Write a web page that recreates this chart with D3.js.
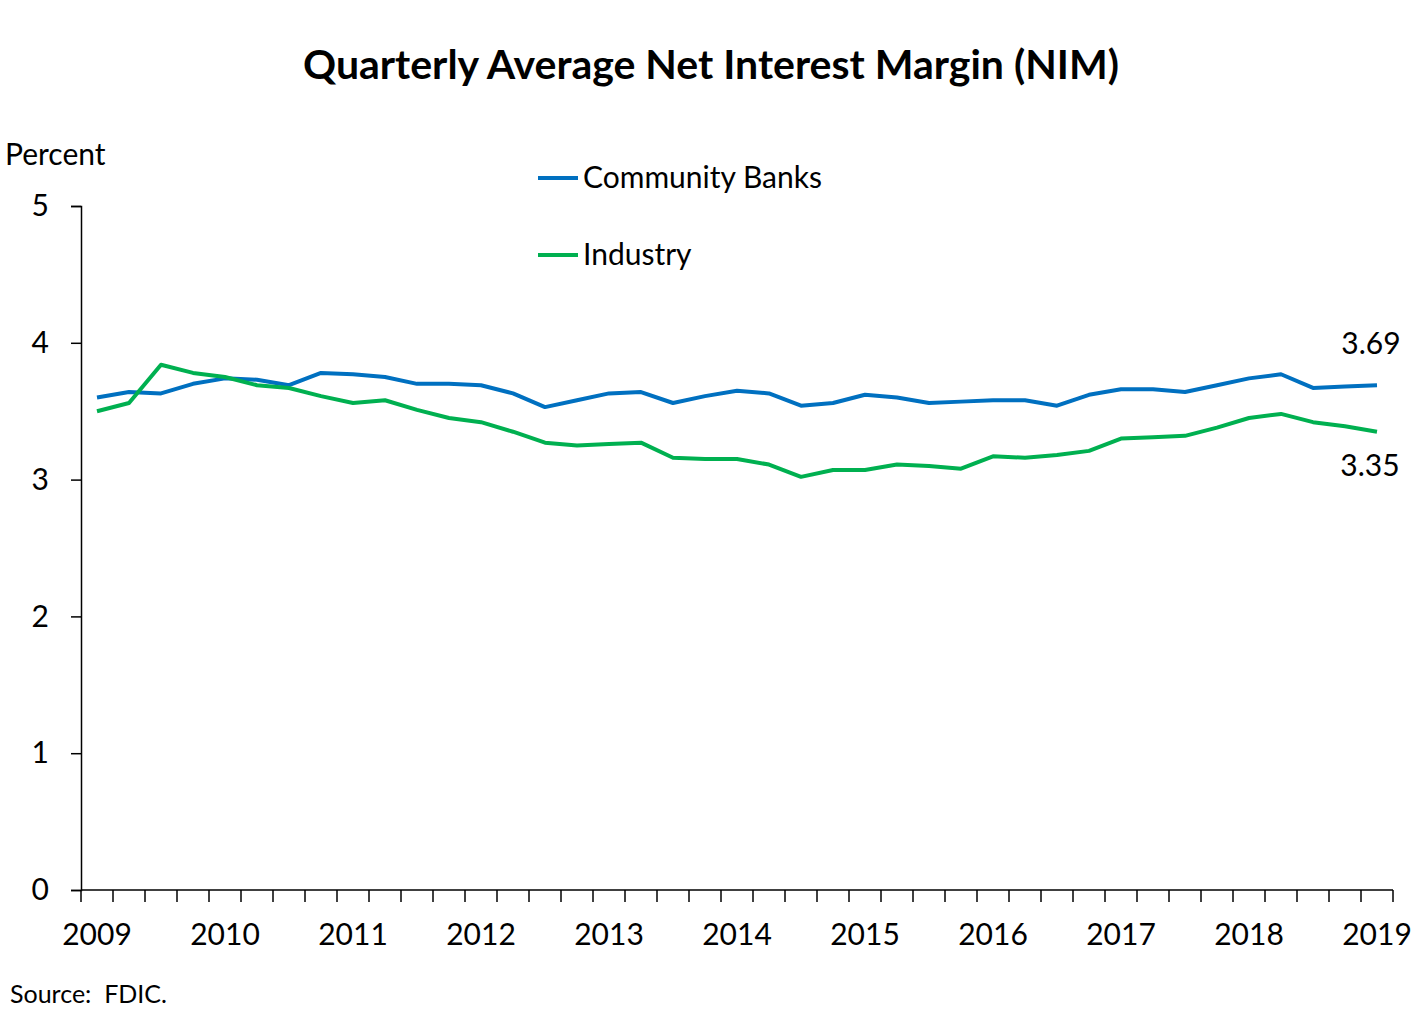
<!DOCTYPE html>
<html><head><meta charset="utf-8">
<script src="https://cdn.jsdelivr.net/npm/d3@7"></script>
<style>body{margin:0;background:#fff}svg{display:block}</style>
</head><body>
<svg id="chart" width="1422" height="1033"></svg>
<script>
const years = ["2009","2010","2011","2012","2013","2014","2015","2016","2017","2018","2019"];
const quarters = [];
for (let yr = 2009; yr <= 2019; yr++) for (let q = 1; q <= 4; q++) if (!(yr === 2019 && q > 1)) quarters.push(yr + "Q" + q);
const community = [3.60,3.64,3.63,3.70,3.74,3.73,3.69,3.78,3.77,3.75,3.70,3.70,3.69,3.63,3.53,3.58,3.63,3.64,3.56,3.61,3.65,3.63,3.54,3.56,3.62,3.60,3.56,3.57,3.58,3.58,3.54,3.62,3.66,3.66,3.64,3.69,3.74,3.77,3.67,3.68,3.69];
const industry  = [3.50,3.56,3.84,3.78,3.75,3.69,3.67,3.61,3.56,3.58,3.51,3.45,3.42,3.35,3.27,3.25,3.26,3.27,3.16,3.15,3.15,3.11,3.02,3.07,3.07,3.11,3.10,3.08,3.17,3.16,3.18,3.21,3.30,3.31,3.32,3.38,3.45,3.48,3.42,3.39,3.35];
const yTicks = [0,1,2,3,4,5];
const seriesNames = ["Community Banks","Industry"];
const colors = ["#0070C0","#00B050"];

const font = "Lato, 'Open Sans', sans-serif";
const fs = 30;
const svg = d3.select("#chart");
const mL = 81, mR = 1393, mT = 206, mB = 890;

const x = d3.scaleBand().domain(quarters).range([mL, mR]).padding(0);
const y = d3.scaleLinear().domain([0,5]).range([mB, mT]);

svg.append("text").attr("x", 711).attr("y", 79).attr("text-anchor","middle")
  .attr("font-family", font).attr("font-weight","bold").attr("font-size", 41).text("Quarterly Average Net Interest Margin (NIM)");

svg.append("text").attr("x", 5).attr("y", 165).attr("font-family", font).attr("font-size", fs).text("Percent");

// y axis
const yAxis = svg.append("g").attr("transform", `translate(${mL},0)`)
  .call(d3.axisLeft(y).tickValues(yTicks).tickSize(10).tickPadding(22).tickFormat(d3.format("d")));
yAxis.select(".domain").attr("stroke","#000").attr("stroke-width",1.5);
yAxis.selectAll(".tick line").attr("stroke","#000").attr("stroke-width",1.5);
yAxis.selectAll("text").attr("font-family", font).attr("font-size", fs).attr("fill","#000");

// x axis
const xg = svg.append("g").attr("transform", `translate(0,${mB})`);
xg.append("line").attr("x1", mL).attr("x2", mR).attr("y1",0).attr("y2",0).attr("stroke","#000").attr("stroke-width",1.5);
const bounds = quarters.map(q => x(q)).concat([mR]);
xg.selectAll("line.tk").data(bounds).enter().append("line").attr("class","tk")
  .attr("x1", d=>d).attr("x2", d=>d).attr("y1",0).attr("y2",12).attr("stroke","#000").attr("stroke-width",1.5);
xg.selectAll("text").data(years).enter().append("text")
  .attr("x", d => x(d + "Q1") + x.bandwidth()/2).attr("y", 55)
  .attr("text-anchor","middle").attr("font-family", font).attr("font-size", fs).text(d=>d);

// lines
const line = d3.line().x((d,i) => x(quarters[i]) + x.bandwidth()/2).y(d => y(d));
[community, industry].forEach((s, k) => {
  svg.append("path").datum(s).attr("d", line).attr("fill","none")
    .attr("stroke", colors[k]).attr("stroke-width", 4).attr("stroke-linejoin","round");
});

// end labels
const lastX = x(quarters[quarters.length-1]) + x.bandwidth()/2;
svg.append("text").attr("x", lastX - 6).attr("y", y(community[community.length-1]) - 31)
  .attr("text-anchor","middle").attr("font-family", font).attr("font-size", fs).text(community[community.length-1].toFixed(2));
svg.append("text").attr("x", lastX - 7).attr("y", y(industry[industry.length-1]) + 44)
  .attr("text-anchor","middle").attr("font-family", font).attr("font-size", fs).text(industry[industry.length-1].toFixed(2));

// legend
seriesNames.forEach((n, k) => {
  const ly = 178 + k*77;
  svg.append("line").attr("x1", 538).attr("x2", 578).attr("y1", ly).attr("y2", ly).attr("stroke", colors[k]).attr("stroke-width", 4);
  svg.append("text").attr("x", 583).attr("y", ly + 10).attr("font-family", font).attr("font-size", fs).text(n);
});

svg.append("text").attr("x", 10).attr("y", 1003).attr("font-family", font).attr("font-size", 25).attr("xml:space","preserve").text("Source:  FDIC.");
</script>
</body></html>
